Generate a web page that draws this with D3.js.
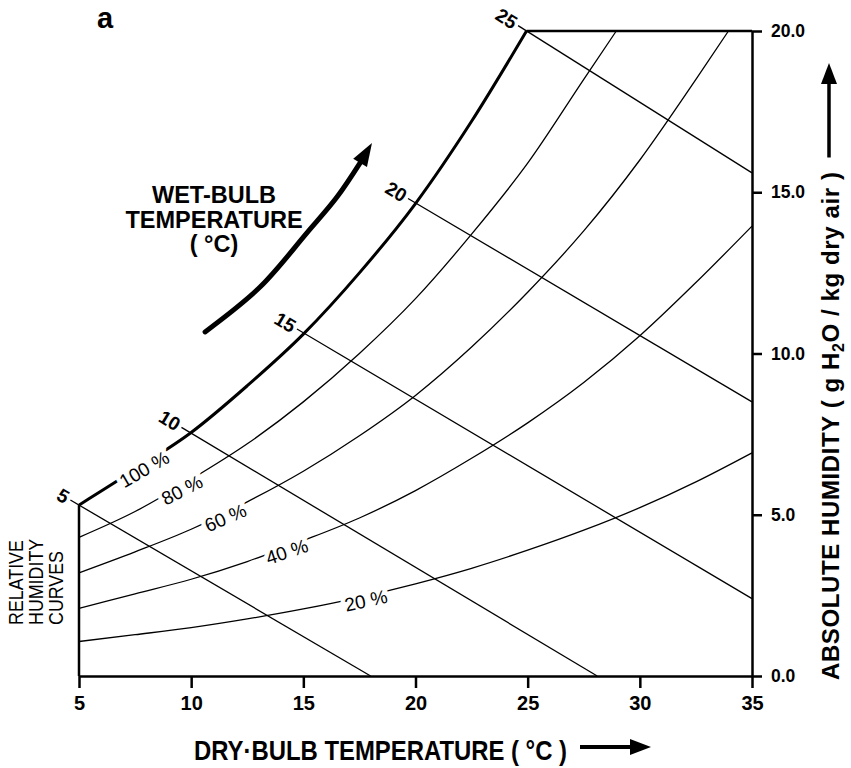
<!DOCTYPE html>
<html>
<head>
<meta charset="utf-8">
<script src="https://cdn.jsdelivr.net/npm/d3@7"></script>
<style>
body { margin: 0; background: #fff; }
svg text { font-family: "Liberation Sans", Arial, Helvetica, sans-serif; fill: #000; }
.curve { fill: none; stroke: #000; stroke-width: 1.3; }
.axis path, .axis line { stroke: #000; stroke-width: 2.5; }
</style>
</head>
<body>
<svg id="chart" width="851" height="768"></svg>
<script>
// dry-bulb temperature (C) vs absolute humidity (g H2O / kg dry air)
const xTicks = [5, 10, 15, 20, 25, 30, 35];
const yTicks = [0, 5, 10, 15, 20];

// relative humidity curves as [dry-bulb, humidity]
const rh100 = [[5,5.3],[7.5,6.4],[10,7.55],[12.5,9.0],[15,10.6],[17.5,12.5],[20,14.65],[22.5,17.2],[24.95,20.0]];
const rh80 = [[5,4.3],[7.5,5.1],[10,6.1],[12.5,7.2],[15,8.5],[17.5,10.0],[20,11.7],[22.5,13.7],[25,15.9],[27.5,18.5],[28.95,20.0]];
const rh60 = [[5,3.2],[7.5,3.85],[10,4.55],[12.5,5.4],[15,6.35],[17.5,7.45],[20,8.7],[22.5,10.2],[25,11.9],[27.5,13.8],[30,16.0],[32.5,18.5],[33.95,20.0]];
const rh40 = [[5,2.1],[7.5,2.55],[10,3.0],[12.5,3.55],[15,4.2],[17.5,4.9],[20,5.75],[22.5,6.75],[25,7.85],[27.5,9.1],[30,10.55],[32.5,12.2],[35,13.95]];
const rh20 = [[5,1.07],[7.5,1.28],[10,1.5],[12.5,1.77],[15,2.08],[17.5,2.44],[20,2.86],[22.5,3.34],[25,3.9],[27.5,4.52],[30,5.22],[32.5,6.02],[35,6.92]];
const rhNames = ['100 %', '80 %', '60 %', '40 %', '20 %'];
const rhLabelAt = [7.8, 9.5, 11.45, 14.2, 17.75];   // dry-bulb where each label sits

// wet-bulb lines: start on saturation curve, end on an axis
const wetBulbTemps = [5, 10, 15, 20, 25];
const wetBulbStart = [[5,5.3],[9.95,7.55],[15.1,10.6],[20.05,14.65],[24.95,20.0]];
const wetBulbEnd = [[18.0,0],[28.1,0],[35,2.4],[35,8.5],[35,15.6]];

// the "wet-bulb rises" arrow, in chart units
const arrowPath = [[10.62,10.67],[13.07,12.06],[15.16,13.74],[16.5,14.85],[17.53,15.91],[18.06,16.53]];

const svg = d3.select('#chart');
const x = d3.scaleLinear().domain([5, 35]).range([79, 752]);
const y = d3.scaleLinear().domain([0, 20]).range([676, 31]);

const line = d3.line().x(d => x(d[0])).y(d => y(d[1])).curve(d3.curveMonotoneX);

// wet-bulb lines
const wb = svg.append('g');
wetBulbTemps.forEach((t, i) => {
    const p0 = [x(wetBulbStart[i][0]), y(wetBulbStart[i][1])];
    const p1 = [x(wetBulbEnd[i][0]), y(wetBulbEnd[i][1])];
    const ang = Math.atan2(p1[1] - p0[1], p1[0] - p0[0]);
    const ux = Math.cos(ang), uy = Math.sin(ang);
    wb.append('line').attr('class', 'curve')
        .attr('x1', p0[0] - ux * 10).attr('y1', p0[1] - uy * 10)
        .attr('x2', p1[0]).attr('y2', p1[1]);
    wb.append('text')
        .attr('transform', 'translate(' + (p0[0] - ux * 13) + ',' + (p0[1] - uy * 13) + ') rotate(' + (ang * 180 / Math.PI) + ')')
        .attr('text-anchor', 'end')
        .attr('dy', '0.36em')
        .style('font-weight', 'bold')
        .style('font-size', '19px')
        .text(t);
});

// relative humidity curves
const rhData = [rh100, rh80, rh60, rh40, rh20];
svg.append('g').selectAll('path')
    .data(rhData)
    .enter()
    .append('path')
    .attr('class', 'curve')
    .attr('d', d => line(d))
    .style('stroke-width', (d, i) => i === 0 ? 3 : 1.3);

// curve labels with a white halo that cuts the line
svg.append('g').selectAll('text')
    .data(rhData)
    .enter()
    .append('text')
    .attr('transform', (d, i) => {
        const t = rhLabelAt[i];
        const k = d3.bisector(p => p[0]).left(d, t);
        const a = d[k - 1], b = d[k];
        const w = a[1] + (b[1] - a[1]) * (t - a[0]) / (b[0] - a[0]);
        const ang = Math.atan2(y(b[1]) - y(a[1]), x(b[0]) - x(a[0])) * 180 / Math.PI * 0.9;
        return 'translate(' + x(t) + ',' + y(w) + ') rotate(' + ang + ')';
    })
    .attr('text-anchor', 'middle')
    .attr('dy', '0.6em')
    .style('font-size', '19px')
    .style('stroke', '#fff')
    .style('stroke-width', 9)
    .style('paint-order', 'stroke')
    .text((d, i) => rhNames[i]);

// frame: left edge and top edge
svg.append('line')
    .attr('x1', x(5)).attr('y1', y(0)).attr('x2', x(5)).attr('y2', y(rh100[0][1]))
    .style('stroke', '#000').style('stroke-width', 2.5);
svg.append('line')
    .attr('x1', x(rh100[rh100.length - 1][0])).attr('y1', y(20)).attr('x2', x(35)).attr('y2', y(20))
    .style('stroke', '#000').style('stroke-width', 2.5);

// axes
const xAxis = svg.append('g').attr('class', 'axis')
    .attr('transform', 'translate(0,' + y(0) + ')')
    .call(d3.axisBottom(x).tickValues(xTicks).tickSize(12).tickSizeOuter(0).tickPadding(8).tickFormat(d3.format('d')));
xAxis.selectAll('text')
    .attr('transform', function() { return 'translate(' + d3.select(this).attr('x') + ',0) scale(0.85,1)'; })
    .style('font-size', '20px').style('font-weight', 'bold');

const yAxis = svg.append('g').attr('class', 'axis')
    .attr('transform', 'translate(' + x(35) + ',0)')
    .call(d3.axisRight(y).tickValues(yTicks).tickSize(10).tickSizeOuter(0).tickPadding(9).tickFormat(d3.format('.1f')));
yAxis.selectAll('text').style('font-size', '17.5px').style('font-weight', 'bold');

// axis titles (condensed lettering squeezed to the original's width)
svg.append('text')
    .attr('x', 194).attr('y', 760)
    .attr('textLength', 373).attr('lengthAdjust', 'spacingAndGlyphs')
    .style('font-size', '28px').style('font-weight', 'bold')
    .text('DRY\u00B7BULB TEMPERATURE  ( \u00B0C )');
svg.append('line').attr('x1', 580).attr('y1', 747).attr('x2', 633).attr('y2', 747)
    .style('stroke', '#000').style('stroke-width', 4);
svg.append('path').attr('d', 'M651,747L630,739L630,755Z');

const yTitleG = svg.append('g').attr('transform', 'translate(839,680) rotate(-90)');
const yTitle = yTitleG.append('text')
    .style('font-size', '24px').style('font-weight', 'bold').style('letter-spacing', '0.6px');
yTitle.append('tspan').text('ABSOLUTE HUMIDITY  ( g H');
yTitle.append('tspan').attr('dy', 5).style('font-size', '16px').text('2');
yTitle.append('tspan').attr('dy', -5).text('O / kg dry air )');
const yEnd = yTitle.node().getComputedTextLength();
yTitleG.append('line').attr('x1', Math.min(yEnd + 14, 530)).attr('y1', -10).attr('x2', 599).attr('y2', -10)
    .style('stroke', '#000').style('stroke-width', 3.5);
yTitleG.append('path').attr('d', 'M617,-10L596,-18L596,-2Z');

// wet-bulb annotation
const wbLabel = svg.append('text').attr('text-anchor', 'middle')
    .style('font-size', '23.5px').style('font-weight', 'bold');
['WET-BULB', 'TEMPERATURE', '( \u00B0C)'].forEach((s, i) => {
    wbLabel.append('tspan').attr('x', 214).attr('y', 203 + i * 24.5).text(s);
});

const shaft = arrowPath.slice(0, arrowPath.length - 1);
svg.append('path')
    .attr('d', d3.line().x(d => x(d[0])).y(d => y(d[1])).curve(d3.curveCatmullRom)(shaft))
    .style('fill', 'none').style('stroke', '#000').style('stroke-width', 5).style('stroke-linecap', 'round');
const tip = arrowPath[arrowPath.length - 1], base = shaft[shaft.length - 1];
const tx = x(tip[0]), ty = y(tip[1]), bx = x(base[0]), by = y(base[1]);
const len = Math.hypot(tx - bx, ty - by), nx = -(ty - by) / len, ny = (tx - bx) / len;
svg.append('path')
    .attr('d', 'M' + tx + ',' + ty + 'L' + (bx + nx * 8) + ',' + (by + ny * 8) + 'L' + (bx - nx * 8) + ',' + (by - ny * 8) + 'Z');

// side note and panel letter
const side = svg.append('text').attr('transform', 'translate(23,625) rotate(-90) scale(0.85,1)')
    .style('font-size', '21px');
['RELATIVE', 'HUMIDITY', 'CURVES'].forEach((s, i) => {
    side.append('tspan').attr('x', 0).attr('y', i * 20).text(s);
});

svg.append('text').attr('x', 97).attr('y', 28)
    .style('font-size', '29px').style('font-weight', 900).text('a');
</script>
</body>
</html>
